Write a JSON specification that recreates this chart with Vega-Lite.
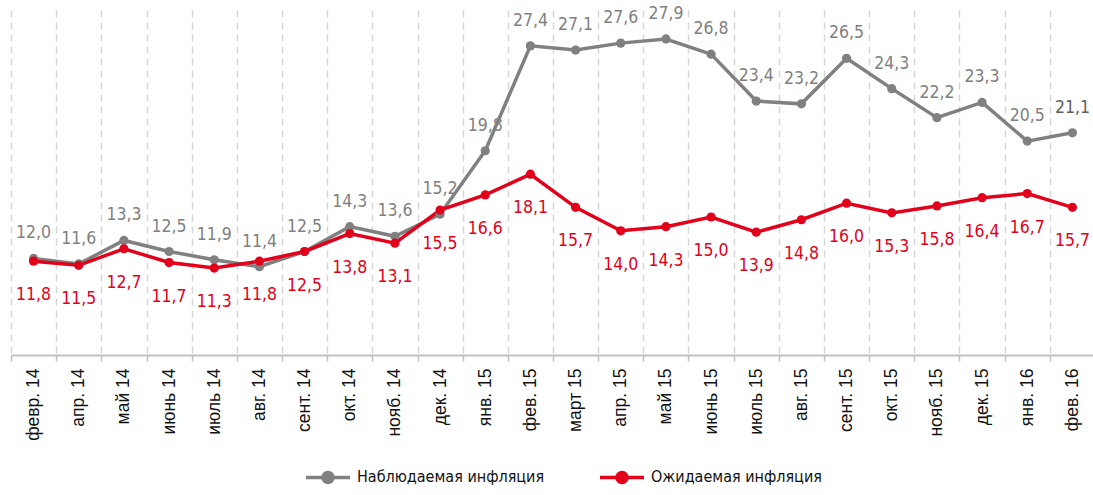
{
  "$schema": "https://vega.github.io/schema/vega-lite/v6.json",
  "autosize": "none",
  "width": 1084,
  "height": 345,
  "padding": {"left": 11, "top": 10, "right": 0, "bottom": 140},
  "background": "white",
  "config": {
    "view": {"stroke": null},
    "locale": {"number": {"decimal": ",", "thousands": " ", "grouping": [3], "currency": ["", ""]}}
  },
  "data": {"values": [
    {"month": "февр. 14", "series": "Наблюдаемая инфляция", "value": 12.0},
    {"month": "апр. 14", "series": "Наблюдаемая инфляция", "value": 11.6},
    {"month": "май 14", "series": "Наблюдаемая инфляция", "value": 13.3},
    {"month": "июнь 14", "series": "Наблюдаемая инфляция", "value": 12.5},
    {"month": "июль 14", "series": "Наблюдаемая инфляция", "value": 11.9},
    {"month": "авг. 14", "series": "Наблюдаемая инфляция", "value": 11.4},
    {"month": "сент. 14", "series": "Наблюдаемая инфляция", "value": 12.5},
    {"month": "окт. 14", "series": "Наблюдаемая инфляция", "value": 14.3},
    {"month": "нояб. 14", "series": "Наблюдаемая инфляция", "value": 13.6},
    {"month": "дек. 14", "series": "Наблюдаемая инфляция", "value": 15.2},
    {"month": "янв. 15", "series": "Наблюдаемая инфляция", "value": 19.8},
    {"month": "фев. 15", "series": "Наблюдаемая инфляция", "value": 27.4},
    {"month": "март 15", "series": "Наблюдаемая инфляция", "value": 27.1},
    {"month": "апр. 15", "series": "Наблюдаемая инфляция", "value": 27.6},
    {"month": "май 15", "series": "Наблюдаемая инфляция", "value": 27.9},
    {"month": "июнь 15", "series": "Наблюдаемая инфляция", "value": 26.8},
    {"month": "июль 15", "series": "Наблюдаемая инфляция", "value": 23.4},
    {"month": "авг. 15", "series": "Наблюдаемая инфляция", "value": 23.2},
    {"month": "сент. 15", "series": "Наблюдаемая инфляция", "value": 26.5},
    {"month": "окт. 15", "series": "Наблюдаемая инфляция", "value": 24.3},
    {"month": "нояб. 15", "series": "Наблюдаемая инфляция", "value": 22.2},
    {"month": "дек. 15", "series": "Наблюдаемая инфляция", "value": 23.3},
    {"month": "янв. 16", "series": "Наблюдаемая инфляция", "value": 20.5},
    {"month": "фев. 16", "series": "Наблюдаемая инфляция", "value": 21.1},
    {"month": "февр. 14", "series": "Ожидаемая инфляция", "value": 11.8},
    {"month": "апр. 14", "series": "Ожидаемая инфляция", "value": 11.5},
    {"month": "май 14", "series": "Ожидаемая инфляция", "value": 12.7},
    {"month": "июнь 14", "series": "Ожидаемая инфляция", "value": 11.7},
    {"month": "июль 14", "series": "Ожидаемая инфляция", "value": 11.3},
    {"month": "авг. 14", "series": "Ожидаемая инфляция", "value": 11.8},
    {"month": "сент. 14", "series": "Ожидаемая инфляция", "value": 12.5},
    {"month": "окт. 14", "series": "Ожидаемая инфляция", "value": 13.8},
    {"month": "нояб. 14", "series": "Ожидаемая инфляция", "value": 13.1},
    {"month": "дек. 14", "series": "Ожидаемая инфляция", "value": 15.5},
    {"month": "янв. 15", "series": "Ожидаемая инфляция", "value": 16.6},
    {"month": "фев. 15", "series": "Ожидаемая инфляция", "value": 18.1},
    {"month": "март 15", "series": "Ожидаемая инфляция", "value": 15.7},
    {"month": "апр. 15", "series": "Ожидаемая инфляция", "value": 14.0},
    {"month": "май 15", "series": "Ожидаемая инфляция", "value": 14.3},
    {"month": "июнь 15", "series": "Ожидаемая инфляция", "value": 15.0},
    {"month": "июль 15", "series": "Ожидаемая инфляция", "value": 13.9},
    {"month": "авг. 15", "series": "Ожидаемая инфляция", "value": 14.8},
    {"month": "сент. 15", "series": "Ожидаемая инфляция", "value": 16.0},
    {"month": "окт. 15", "series": "Ожидаемая инфляция", "value": 15.3},
    {"month": "нояб. 15", "series": "Ожидаемая инфляция", "value": 15.8},
    {"month": "дек. 15", "series": "Ожидаемая инфляция", "value": 16.4},
    {"month": "янв. 16", "series": "Ожидаемая инфляция", "value": 16.7},
    {"month": "фев. 16", "series": "Ожидаемая инфляция", "value": 15.7}
  ]},
  "encoding": {
    "x": {
      "field": "month", "type": "ordinal", "sort": null,
      "scale": {"paddingInner": 0, "paddingOuter": 0},
      "axis": {
        "title": null, "labelAngle": 270, "labelFont": "Liberation Sans", "labelFontSize": 17.5,
        "labelColor": "#111111", "labelPadding": 7,
        "tickBand": "extent", "grid": true, "gridDash": [7, 5], "gridColor": "#d6d6d6", "gridWidth": 1.5,
        "domainColor": "#bfbfbf", "domainWidth": 2, "tickColor": "#bfbfbf", "tickSize": 6, "tickWidth": 1.5
      }
    },
    "y": {"field": "value", "type": "quantitative", "scale": {"domain": [5, 30], "zero": false}, "axis": null},
    "color": {
      "field": "series", "type": "nominal",
      "scale": {"domain": ["Наблюдаемая инфляция", "Ожидаемая инфляция"], "range": ["#808080", "#e2001a"]}
    }
  },
  "layer": [
    {
      "mark": {"type": "line", "strokeWidth": 3.5},
      "encoding": {
        "color": {
          "field": "series", "type": "nominal",
          "legend": {
            "orient": "none", "legendX": 293, "legendY": 443, "direction": "horizontal",
            "title": null, "labelFont": "Liberation Sans Narrow, DejaVu Sans Condensed, Roboto Condensed, Liberation Sans", "labelFontSize": 16, "labelColor": "#111111",
            "labelLimit": 400, "labelOffset": 5, "columnPadding": 48,
            "symbolType": "M-1,0H1M-0.23,0A0.23,0.23,0,1,1,0.23,0A0.23,0.23,0,1,1,-0.23,0Z",
            "symbolSize": 1936, "symbolStrokeWidth": 3.5,
            "encode": {"symbols": {"update": {
              "fill": {"scale": "color", "field": "value"},
              "stroke": {"scale": "color", "field": "value"},
              "opacity": {"value": 1}
            }}}
          }
        }
      }
    },
    {
      "mark": {"type": "point", "filled": true, "size": 85, "opacity": 1},
      "encoding": {"color": {"field": "series", "type": "nominal", "legend": null}}
    },
    {
      "transform": [{"filter": "datum.series === 'Наблюдаемая инфляция'"}],
      "mark": {"type": "text", "dy": -25, "font": "Liberation Sans Narrow, DejaVu Sans Condensed, Roboto Condensed, Liberation Sans", "fontSize": 17.5},
      "encoding": {
        "text": {"field": "value", "type": "quantitative", "format": ".1f"},
        "color": {"condition": {"test": "datum.month === 'фев. 16'", "value": "#5f5f5f"}, "value": "#808080"},
        "fontWeight": {"condition": {"test": "datum.month === 'фев. 16'", "value": "bold"}, "value": "normal"}
      }
    },
    {
      "transform": [{"filter": "datum.series === 'Ожидаемая инфляция'"}],
      "mark": {"type": "text", "dy": 34, "font": "Liberation Sans Narrow, DejaVu Sans Condensed, Roboto Condensed, Liberation Sans", "fontSize": 17.5},
      "encoding": {
        "text": {"field": "value", "type": "quantitative", "format": ".1f"},
        "color": {"value": "#e2001a"},
        "fontWeight": {"condition": {"test": "datum.month === 'фев. 16'", "value": "bold"}, "value": "normal"}
      }
    }
  ]
}
